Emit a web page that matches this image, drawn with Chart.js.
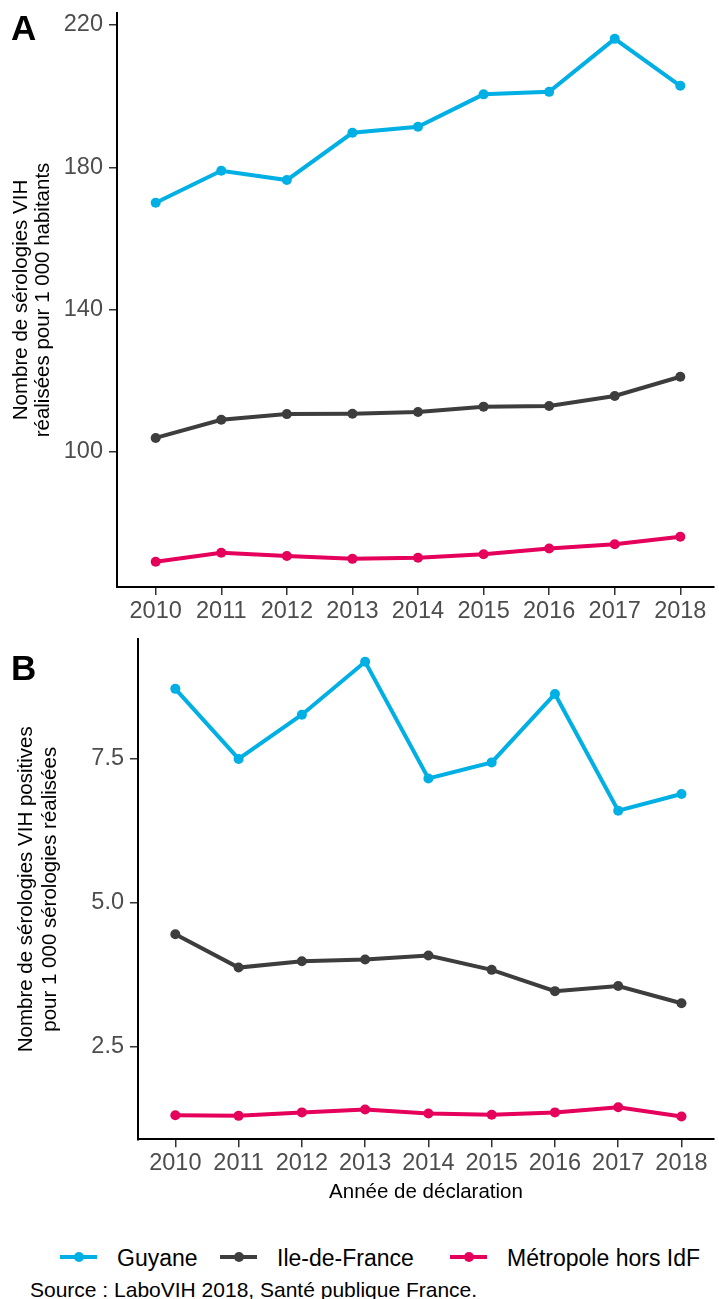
<!DOCTYPE html>
<html><head><meta charset="utf-8">
<script src="https://cdn.jsdelivr.net/npm/chart.js@4"></script>
<style>
html,body{margin:0;padding:0;background:#fff;}
body{width:719px;height:1299px;overflow:hidden;position:relative;font-family:"Liberation Sans",Arial,sans-serif;}
canvas{position:absolute;left:0;}
.plab{position:absolute;font-weight:bold;font-size:35px;line-height:1.15;color:#000;}
.ltxt{position:absolute;font-size:23px;line-height:1.15;color:#000;top:1245px;white-space:nowrap;}
.key{position:absolute;top:1257px;width:37px;height:0;}
.kl{position:absolute;left:0;top:-2px;width:37px;height:4px;}
.kd{position:absolute;left:13.5px;top:-5px;width:10px;height:10px;border-radius:50%;}
#src{position:absolute;left:30px;top:1278px;font-size:21px;line-height:1.15;color:#000;white-space:nowrap;}
</style></head><body>
<canvas id="ca" width="719" height="630" style="top:0;width:719px;height:630px"></canvas>
<canvas id="cb" width="719" height="585" style="top:630px;width:719px;height:585px"></canvas>
<div class="plab" style="left:11px;top:8px">A</div>
<div class="plab" style="left:11px;top:648px">B</div>
<div id="legend"></div>
<div id="src">Source : LaboVIH 2018, Santé publique France.</div>
<script>
// ---- data ----
const years = [2010, 2011, 2012, 2013, 2014, 2015, 2016, 2017, 2018];
const seriesNames = ["Guyane", "Ile-de-France", "Métropole hors IdF"];
const seriesColors = ["#00AFE3", "#3D3D3D", "#E4005B"];
// Panel A: sérologies réalisées pour 1 000 habitants
const guyaneTests = [170.0, 179.0, 176.4, 189.7, 191.4, 200.5, 201.2, 216.1, 202.9];
const idfTests    = [103.9, 109.0, 110.6, 110.7, 111.2, 112.7, 112.9, 115.7, 121.1];
const metroTests  = [69.1, 71.6, 70.7, 69.9, 70.2, 71.2, 72.8, 74.0, 76.1];
// Panel B: sérologies positives pour 1 000 sérologies réalisées
const guyanePos = [8.72, 7.50, 8.27, 9.19, 7.16, 7.44, 8.63, 6.60, 6.89];
const idfPos    = [4.45, 3.87, 3.98, 4.01, 4.08, 3.83, 3.46, 3.55, 3.25];
const metroPos  = [1.30, 1.29, 1.35, 1.40, 1.33, 1.31, 1.35, 1.44, 1.28];
const ticksA = [100, 140, 180, 220];
const ticksB = [2.5, 5.0, 7.5];
const titleA = ["Nombre de sérologies VIH", "réalisées pour 1 000 habitants"];
const titleB = ["Nombre de sérologies VIH positives", "pour 1 000 sérologies réalisées"];
const xTitle = "Année de déclaration";

const FAM = '"Liberation Sans", Arial, sans-serif';

function makeDatasets(arrs) {
  return arrs.map((vals, i) => ({
    label: seriesNames[i],
    data: years.map((y, j) => ({x: y, y: vals[j]})),
    borderColor: seriesColors[i],
    backgroundColor: seriesColors[i],
    borderWidth: 4,
    pointRadius: 5,
    pointBorderWidth: 0,
    pointBackgroundColor: seriesColors[i],
    tension: 0
  }));
}

function makeChart(id, arrs, cfg) {
  return new Chart(document.getElementById(id), {
    type: 'line',
    data: {datasets: makeDatasets(arrs)},
    options: {
      responsive: false,
      maintainAspectRatio: false,
      animation: false,
      events: [],
      layout: {padding: {top: cfg.padTop, left: 0, right: 0, bottom: 0}},
      plugins: {legend: {display: false}, tooltip: {enabled: false}},
      scales: {
        x: {
          type: 'linear',
          min: 2009.41, max: 2018.514,
          afterBuildTicks: s => { s.ticks = years.map(v => ({value: v})); },
          afterFit: s => { s.height = cfg.xHeight; s.paddingLeft = 0; s.paddingRight = 0; },
          grid: {display: true, drawOnChartArea: false, drawTicks: true, tickLength: 8, color: '#333333', lineWidth: 1.5},
          border: {display: true, color: '#000000', width: 2},
          ticks: {color: '#4d4d4d', font: {size: 23.5, family: FAM}, padding: 2, maxRotation: 0, autoSkip: false,
                  callback: v => String(v)},
          title: cfg.xTitle ? {display: true, text: cfg.xTitle, color: '#000', font: {size: 20.5, family: FAM},
                  padding: {top: 0, bottom: 10}} : {display: false}
        },
        y: {
          type: 'linear',
          min: cfg.yMin, max: cfg.yMax,
          afterBuildTicks: s => { s.ticks = cfg.yTicks.map(v => ({value: v})); },
          afterFit: s => { s.width = cfg.yWidth; s.paddingTop = 0; s.paddingBottom = 0; },
          grid: {display: true, drawOnChartArea: false, drawTicks: true, tickLength: 8, color: '#333333', lineWidth: 1.5},
          border: {display: true, color: '#000000', width: 2},
          ticks: {color: '#4d4d4d', font: {size: 23.5, family: FAM}, padding: 6,
                  callback: v => cfg.dec ? Number(v).toFixed(cfg.dec) : String(v)},
          title: {display: true, text: cfg.yTitle, color: '#000', font: {size: 20.5, family: FAM, lineHeight: cfg.yLH},
                  padding: {top: cfg.yTitlePad, bottom: 0}}
        }
      }
    }
  });
}

makeChart('ca', [guyaneTests, idfTests, metroTests], {
  padTop: 13, xHeight: 43, yWidth: 117, yMin: 61.99, yMax: 223.37, yTicks: ticksA,
  yTitle: titleA, yTitlePad: 10.7, yLH: 1.05, dec: 0, xTitle: null
});
makeChart('cb', [guyanePos, idfPos, metroPos], {
  padTop: 9.3, xHeight: 75.7, yWidth: 138, yMin: 0.882, yMax: 9.582, yTicks: ticksB,
  yTitle: titleB, yTitlePad: 14.5, yLH: 1.15, dec: 1, xTitle: xTitle
});

// legend (HTML)
const keyLefts = [60, 220, 450];
const txtLefts = [117, 277, 507];
const lg = document.getElementById('legend');
seriesNames.forEach((n, i) => {
  const k = document.createElement('div');
  k.className = 'key'; k.style.left = keyLefts[i] + 'px';
  k.innerHTML = '<span class="kl" style="background:' + seriesColors[i] + '"></span><span class="kd" style="background:' + seriesColors[i] + '"></span>';
  lg.appendChild(k);
  const t = document.createElement('div');
  t.className = 'ltxt'; t.style.left = txtLefts[i] + 'px'; t.textContent = n;
  lg.appendChild(t);
});
</script>
</body></html>
